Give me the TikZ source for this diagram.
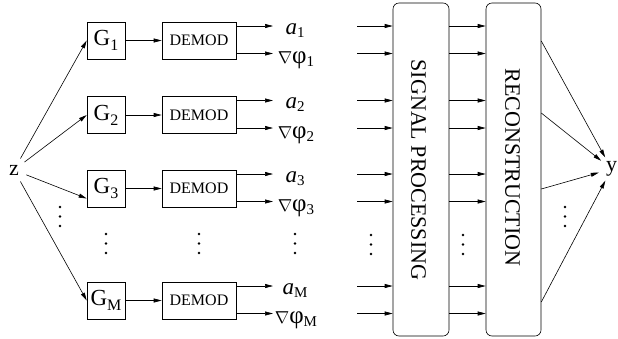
\documentclass[tikz,border=0pt]{standalone}
\usepackage{fontspec}
\setmainfont{Liberation Serif}
\usetikzlibrary{arrows.meta}
\newcommand{\mygsub}[1]{\raisebox{-5pt}{\fontsize{16}{16}\selectfont #1}}
\newcommand{\mylsub}[1]{\raisebox{-3pt}{\fontsize{15}{15}\selectfont #1}}
\newcommand{\mynabla}{{\fontsize{19}{19}\selectfont$\nabla$}}
\newcommand{\myphi}{{\fontsize{25}{25}\selectfont φ}}
\begin{document}
\begin{tikzpicture}[x=1pt,y=-1pt,
  box/.style={draw,line width=0.6pt,inner sep=0pt,minimum width=38pt,minimum height=37pt,font=\fontsize{23}{24}\selectfont},
  dbox/.style={draw,line width=0.6pt,inner sep=0pt,minimum width=74pt,minimum height=37pt,font=\fontsize{16}{18}\selectfont},
  bigbox/.style={draw,line width=0.6pt,rounded corners=6pt,minimum width=56pt,minimum height=333pt,inner sep=0pt},
  bigtext/.style={rotate=-90,font=\fontsize{22}{24}\selectfont,inner sep=0pt},
  arr/.style={line width=0.6pt,-{Triangle[length=8pt,width=4pt]}},
  lbl/.style={font=\fontsize{23}{24}\selectfont,inner sep=0pt,anchor=base},
  endpt/.style={circle,inner sep=0pt,minimum size=26pt,font=\fontsize{22}{24}\selectfont},
  vd/.pic={\fill (0,0) circle (1.4pt) (0,9.5) circle (1.4pt) (0,19) circle (1.4pt);}
]
\useasboundingbox (0,0) rectangle (618,338);

\node[endpt] (z) at (14,170) {z};
\node[endpt] (yl) at (611.5,169) {y};

\node[bigbox] (SP) at (421,169.5) {};
\node[bigtext] (SPt) at (418.5,170) {SIGNAL PROCESSING};
\node[bigbox,minimum width=55pt] (RC) at (513.5,169.5) {};
\node[bigtext] (RCt) at (512.5,167.5) {RECONSTRUCTION};

\foreach \n/\yy/\sh in {1/40.5/0, 2/115/0, 3/188.5/-10, M/300.5/0} {
  \node[box] (G\n) at (106,\yy) {G\mygsub{\n}};
  \node[dbox] (D\n) at (199,\yy) {DEMOD};
  \draw[arr] (G\n) -- (D\n);
  \draw[arr] (z) -- ([yshift=\sh pt]G\n.west);
  \coordinate (oa\n) at (273,{\yy-14.5});
  \coordinate (ob\n) at (273,{\yy+13});
  \draw[arr] (D\n.east |- oa\n) -- (oa\n);
  \draw[arr] (D\n.east |- ob\n) -- (ob\n);
  \node[lbl] (la\n) at (295,{\yy-14.5+8}) {\textit{a}\mylsub{\n}};
  \node[lbl] (lb\n) at (296,{\yy+13+10}) {\mynabla\myphi\mylsub{\n}};
  \coordinate (pa\n) at (357,{\yy-14.5});
  \coordinate (pb\n) at (357,{\yy+13});
  \draw[arr] (pa\n) -- (pa\n -| SP.west);
  \draw[arr] (pb\n) -- (pb\n -| SP.west);
  \draw[arr] (pa\n -| SP.east) -- (pa\n -| RC.west);
  \draw[arr] (pb\n -| SP.east) -- (pb\n -| RC.west);
}

\foreach \k/\yy in {1/41, 2/113, 3/189, 4/302} {
  \coordinate (q\k) at (0,\yy);
  \draw[arr] (RC.east |- q\k) -- (yl);
}

\pic at (60,207) {vd};
\pic at (106,234) {vd};
\pic at (199,234) {vd};
\pic at (295,234) {vd};
\pic at (371,235) {vd};
\pic at (463,235) {vd};
\pic at (565,207) {vd};
\end{tikzpicture}
\end{document}
